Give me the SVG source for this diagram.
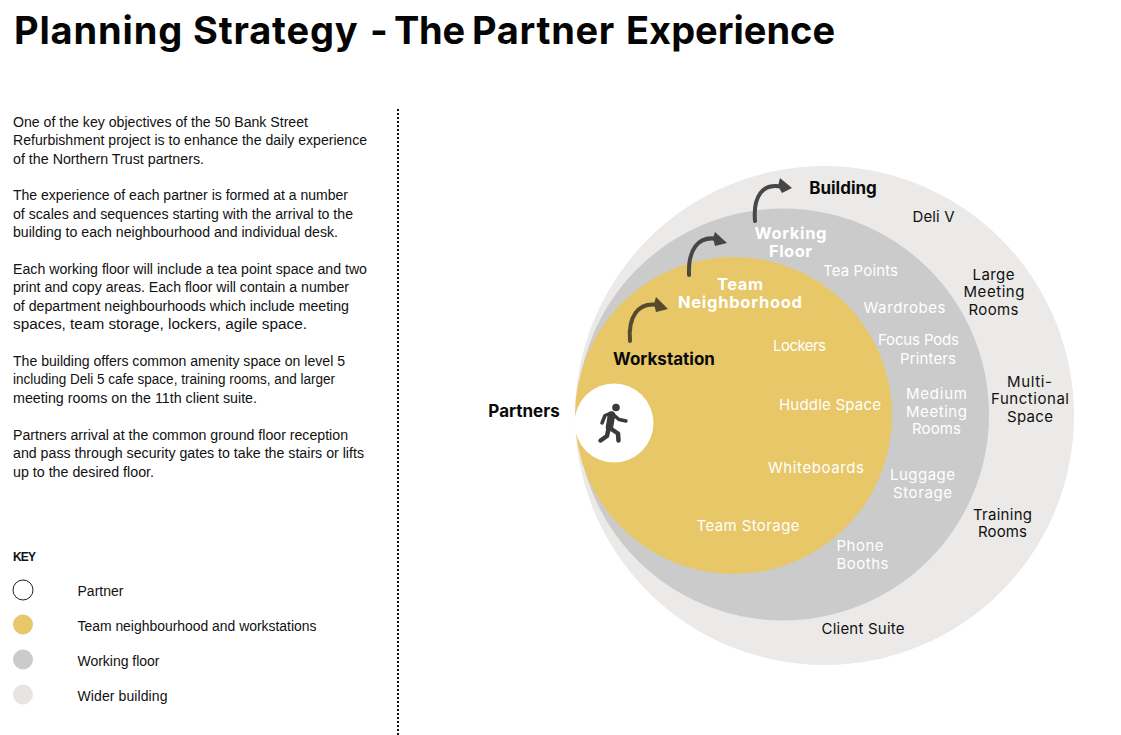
<svg xmlns="http://www.w3.org/2000/svg" width="1121" height="735" viewBox="0 0 1121 735">
<style>
.body{font:14px "Liberation Sans",Arial,sans-serif;fill:#111}
.lab{font-size:15px;fill:#fff;text-anchor:middle;font-family:"Inter",sans-serif;font-weight:400}
.blk{font-size:15px;fill:#111;text-anchor:middle;font-family:"Inter",sans-serif;font-weight:400}
.hw{font-size:16.500px;fill:#fff;text-anchor:middle;font-family:"Inter",sans-serif;font-weight:700}
.hb{font-size:17px;fill:#0a0a0a;text-anchor:middle;font-family:"Inter",sans-serif;font-weight:700}
.arrow{fill:none;stroke-width:4;stroke-linecap:round}
.limb{fill:none;stroke:#3a3a3a;stroke-linecap:round;stroke-linejoin:round}
</style>
<rect width="1121" height="735" fill="#fff"/>
<text id="title" y="44" font-family="Inter,sans-serif" font-weight="700" font-size="38" fill="#050505"><tspan x="14" letter-spacing=".85">Planning Strategy</tspan> <tspan x="370">-</tspan> <tspan x="394" letter-spacing="-.3">The</tspan> <tspan x="472" letter-spacing=".7">Partner</tspan> <tspan x="626">Experience</tspan></text>
<g id="intro" class="body">
<text x="13" y="127" textLength="295" lengthAdjust="spacingAndGlyphs">One of the key objectives of the 50 Bank Street</text>
<text x="13" y="145" textLength="354" lengthAdjust="spacingAndGlyphs">Refurbishment project is to enhance the daily experience</text>
<text x="13" y="164" textLength="191" lengthAdjust="spacingAndGlyphs">of the Northern Trust partners.</text>
<text x="13" y="200" textLength="335" lengthAdjust="spacingAndGlyphs">The experience of each partner is formed at a number</text>
<text x="13" y="219" textLength="340" lengthAdjust="spacingAndGlyphs">of scales and sequences starting with the arrival to the</text>
<text x="13" y="237" textLength="325" lengthAdjust="spacingAndGlyphs">building to each neighbourhood and individual desk.</text>
<text x="13" y="274" textLength="354" lengthAdjust="spacingAndGlyphs">Each working floor will include a tea point space and two</text>
<text x="13" y="292" textLength="336" lengthAdjust="spacingAndGlyphs">print and copy areas. Each floor will contain a number</text>
<text x="13" y="311" textLength="336" lengthAdjust="spacingAndGlyphs">of department neighbourhoods which include meeting</text>
<text x="13" y="329" textLength="294" lengthAdjust="spacingAndGlyphs">spaces, team storage, lockers, agile space.</text>
<text x="13" y="366" textLength="332" lengthAdjust="spacingAndGlyphs">The building offers common amenity space on level 5</text>
<text x="13" y="384" textLength="322" lengthAdjust="spacingAndGlyphs">including Deli 5 cafe space, training rooms, and larger</text>
<text x="13" y="403" textLength="244" lengthAdjust="spacingAndGlyphs">meeting rooms on the 11th client suite.</text>
<text x="13" y="440" textLength="335" lengthAdjust="spacingAndGlyphs">Partners arrival at the common ground floor reception</text>
<text x="13" y="458" textLength="351" lengthAdjust="spacingAndGlyphs">and pass through security gates to take the stairs or lifts</text>
<text x="13" y="477" textLength="141" lengthAdjust="spacingAndGlyphs">up to the desired floor.</text>
</g>
<g id="key">
<text x="13" y="561" font-family="Liberation Sans,sans-serif" font-weight="700" font-size="12" fill="#111" textLength="23">KEY</text>
<circle cx="23" cy="590" r="10" fill="#fff" stroke="#222" stroke-width="1"/>
<circle cx="23" cy="624.500" r="10" fill="#e7c768"/>
<circle cx="23" cy="659.500" r="10" fill="#cbcbcb"/>
<circle cx="23" cy="694.500" r="10" fill="#e6e5e4"/>
<g class="body">
<text x="77.500" y="596" textLength="46">Partner</text>
<text x="77.500" y="631" textLength="239" lengthAdjust="spacingAndGlyphs">Team neighbourhood and workstations</text>
<text x="77.500" y="666" textLength="82">Working floor</text>
<text x="77.500" y="701" textLength="90">Wider building</text>
</g>
</g>
<line id="divider" x1="398" y1="109" x2="398" y2="735" stroke="#111" stroke-width="2" stroke-dasharray="2 2"/>
<g id="building"><circle cx="824.500" cy="415.500" r="249.500" fill="#ebeae8"/></g>
<g id="working-floor"><circle cx="783" cy="414.500" r="206" fill="#cbcbcb"/></g>
<g id="team"><circle cx="733.500" cy="415.500" r="158.500" fill="#e7c768"/></g>
<g id="partner">
<circle cx="614" cy="423" r="39.500" fill="#fff"/>
<circle cx="616" cy="407.500" r="3.800" fill="#3a3a3a"/>
<path class="limb" stroke-width="7.500" d="M611.500,415 L609.500,427"/>
<path class="limb" stroke-width="3.500" d="M610,413.500 L605,415.500 L602,423 M612.500,414 L619,419.500 L626,421"/>
<path class="limb" stroke-width="4.500" d="M608.500,429 L607,436 L600.500,440.500 M610.500,428.500 L618,433.500 L618.500,440.500"/>
</g>
<g id="connectors">
<g stroke="#474747" fill="#474747">
<path class="arrow" d="M755,221 C753,197 762,182 783,187"/><path stroke="none" d="M780,178 L792,188 L782,193 L778,186 Z"/>
<path class="arrow" d="M689,275 C688,251 697,235 718,239"/><path stroke="none" d="M715,232 L727,243 L715,246 L713,238 Z"/>
</g>
<g stroke="#55492e" fill="#55492e">
<path class="arrow" d="M630,341 C628,318 637,301 659,305"/><path stroke="none" d="M656,297 L668,309 L656,312 L654,304 Z"/>
</g>
</g>
<g id="labels-main">
<text class="hb" x="843" y="194">Building</text>
<text class="hw" x="790.500" y="239" textLength="72">Working</text>
<text class="hw" x="790.500" y="257" textLength="43">Floor</text>
<text class="hw" x="740" y="290" textLength="46">Team</text>
<text class="hw" x="740" y="308" textLength="124">Neighborhood</text>
<text class="hb" x="664" y="365">Workstation</text>
<text class="hb" x="524" y="417">Partners</text>
</g>
<g id="labels-team">
<text class="lab" x="799.500" y="351" textLength="53">Lockers</text>
<text class="lab" x="830" y="410" textLength="102">Huddle Space</text>
<text class="lab" x="816" y="473" textLength="96">Whiteboards</text>
<text class="lab" x="748" y="531" textLength="103">Team Storage</text>
</g>
<g id="labels-floor">
<text class="lab" x="860.500" y="276" textLength="75">Tea Points</text>
<text class="lab" x="904.500" y="313" textLength="82">Wardrobes</text>
<text class="lab" x="918.500" y="345" textLength="81">Focus Pods</text>
<text class="lab" x="928" y="364" textLength="56">Printers</text>
<text class="lab" x="936.500" y="399" textLength="61">Medium</text>
<text class="lab" x="936.500" y="417" textLength="61">Meeting</text>
<text class="lab" x="936.500" y="434" textLength="49">Rooms</text>
<text class="lab" x="922.500" y="480" textLength="65">Luggage</text>
<text class="lab" x="922.500" y="498" textLength="59">Storage</text>
<text class="lab" x="860" y="551" textLength="47">Phone</text>
<text class="lab" x="862.500" y="569" textLength="52">Booths</text>
</g>
<g id="labels-building">
<text class="blk" x="933.500" y="222" textLength="42">Deli V</text>
<text class="blk" x="993.500" y="280" textLength="42">Large</text>
<text class="blk" x="994" y="297" textLength="61">Meeting</text>
<text class="blk" x="993.500" y="315" textLength="50">Rooms</text>
<text class="blk" x="1029.500" y="387" textLength="45">Multi-</text>
<text class="blk" x="1030" y="404" textLength="78">Functional</text>
<text class="blk" x="1030" y="422" textLength="46">Space</text>
<text class="blk" x="1002.500" y="520" textLength="59">Training</text>
<text class="blk" x="1002.500" y="537" textLength="49">Rooms</text>
<text class="blk" x="863" y="634" textLength="83">Client Suite</text>
</g>
</svg>
